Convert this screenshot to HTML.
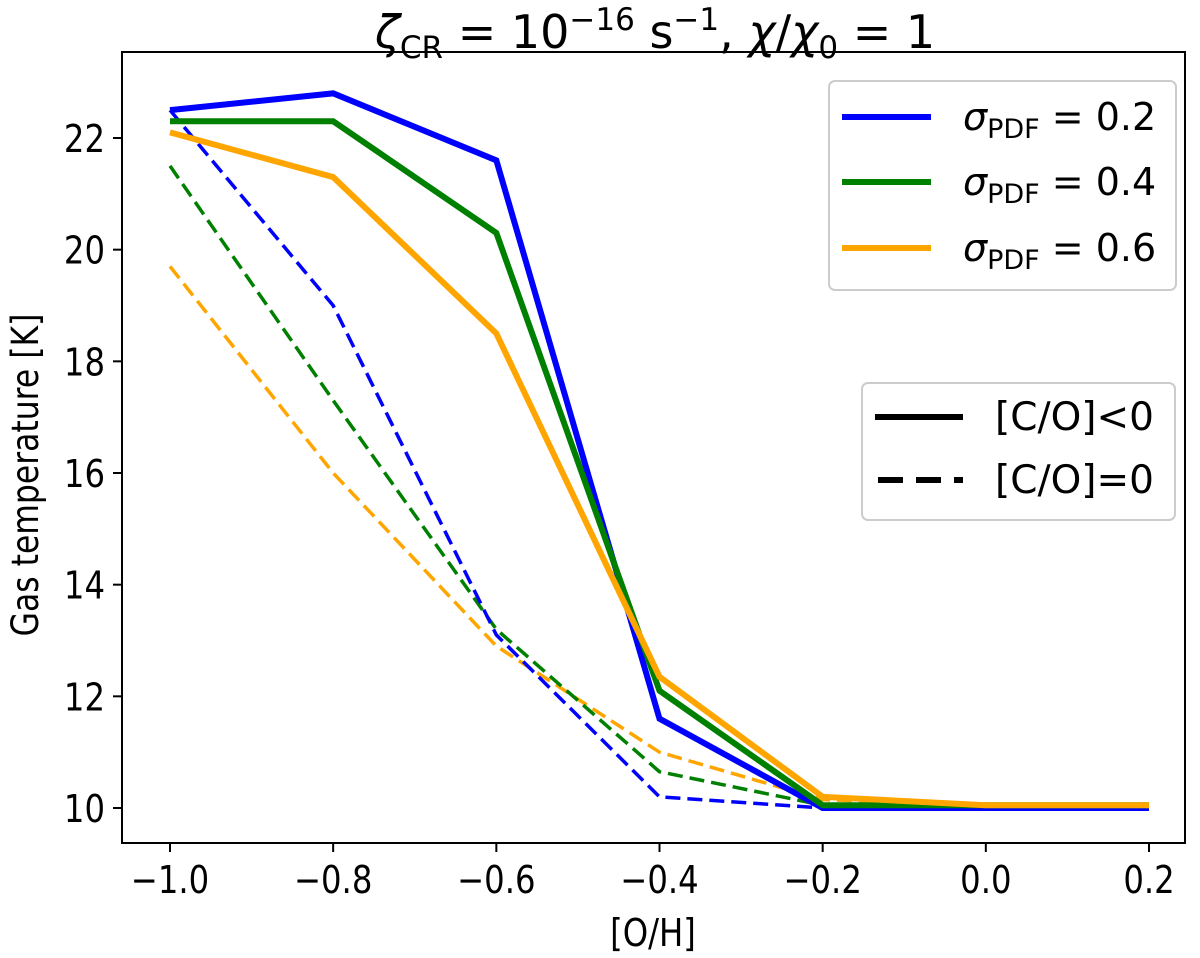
<!DOCTYPE html>
<html><head><meta charset="utf-8"><style>
body{margin:0;background:#fff}
svg text{font-family:"DejaVu Sans","Liberation Sans",sans-serif;fill:#000}
</style></head><body>
<svg id="chart" width="1200" height="953" viewBox="0 0 1200 953" xmlns="http://www.w3.org/2000/svg">
<text x="655" y="48" font-size="46" text-anchor="middle"><tspan font-style="italic">ζ</tspan><tspan font-size="31" dy="10">CR</tspan><tspan dy="-10"> = 10</tspan><tspan font-size="31" dy="-18">−16</tspan><tspan dy="18"> s</tspan><tspan font-size="31" dy="-18">−1</tspan><tspan dy="18">, </tspan><tspan font-style="italic">χ</tspan>/<tspan font-style="italic">χ</tspan><tspan font-size="31" dy="10">0</tspan><tspan dy="-10"> = 1</tspan></text>
<g id="plot"></g>
<rect x="122" y="52" width="1063" height="791" fill="none" stroke="#000" stroke-width="2"/>
<g id="ticks"></g>
<text transform="translate(653,946) scale(0.85,1)" font-size="38" text-anchor="middle">[O/H]</text>
<text transform="translate(38,475) rotate(-90) scale(0.85,1)" font-size="37" text-anchor="middle">Gas temperature [K]</text>
<g>
<rect x="829" y="81" width="347" height="209" rx="6" fill="#fff" stroke="#ccc" stroke-width="2"/>
<g><line x1="842" y1="117" x2="931" y2="117" stroke="#0000ff" stroke-width="6"/><text x="963" y="130" font-size="38"><tspan font-style="italic">σ</tspan><tspan font-size="27" dy="8">PDF</tspan><tspan dy="-8"> = 0.2</tspan></text></g>
<g><line x1="842" y1="182" x2="931" y2="182" stroke="#008000" stroke-width="6"/><text x="963" y="195" font-size="38"><tspan font-style="italic">σ</tspan><tspan font-size="27" dy="8">PDF</tspan><tspan dy="-8"> = 0.4</tspan></text></g>
<g><line x1="842" y1="248" x2="931" y2="248" stroke="#ffa500" stroke-width="6"/><text x="963" y="261" font-size="38"><tspan font-style="italic">σ</tspan><tspan font-size="27" dy="8">PDF</tspan><tspan dy="-8"> = 0.6</tspan></text></g>
</g>
<g>
<rect x="862" y="383" width="313" height="137" rx="6" fill="#fff" stroke="#ccc" stroke-width="2"/>
<g><line x1="875" y1="417" x2="963" y2="417" stroke="#000" stroke-width="6"/><text x="995" y="430" font-size="39">[C/O]&lt;0</text></g>
<g><line x1="878" y1="480" x2="963" y2="480" stroke="#000" stroke-width="6" stroke-dasharray="25,13"/><text x="995" y="493" font-size="39">[C/O]=0</text></g>
</g>
</svg>
<script>
const xCats=[-1.0,-0.8,-0.6,-0.4,-0.2,0.0,0.2];
const xTickLabels=["−1.0","−0.8","−0.6","−0.4","−0.2","0.0","0.2"];
const yTicks=[10,12,14,16,18,20,22];
const solid02=[22.5,22.8,21.6,11.6,10.0,10.0,10.0];
const solid04=[22.3,22.3,20.3,12.1,10.05,10.05,10.05];
const solid06=[22.1,21.3,18.5,12.35,10.2,10.05,10.05];
const dash02=[22.5,19.0,13.1,10.2,10.0,10.0,10.0];
const dash04=[21.5,17.3,13.2,10.65,10.05,10.0,10.0];
const dash06=[19.7,16.0,12.9,11.0,10.15,10.05,10.05];
const NS="http://www.w3.org/2000/svg";
const xs=v=>170+(v+1.0)/1.2*979;
const ys=v=>808-(v-10)/12*670;
const plot=document.getElementById('plot'),ticks=document.getElementById('ticks');
function line(vals,color,w,dash,name){
  const p=document.createElementNS(NS,'polyline');
  p.setAttribute('points',vals.map((v,i)=>xs(xCats[i])+','+ys(v)).join(' '));
  p.setAttribute('fill','none');p.setAttribute('stroke',color);p.setAttribute('stroke-width',w);
  if(dash)p.setAttribute('stroke-dasharray',dash);
  
  
  plot.appendChild(p);
}
line(dash06,'#ffa500',3.5,'15,7','series-dashed-sigma-0.6');
line(dash04,'#008000',3.5,'15,7','series-dashed-sigma-0.4');
line(dash02,'#0000ff',3.5,'15,7','series-dashed-sigma-0.2');
line(solid02,'#0000ff',6,null,'series-solid-sigma-0.2');
line(solid04,'#008000',6,null,'series-solid-sigma-0.4');
line(solid06,'#ffa500',6,null,'series-solid-sigma-0.6');
xCats.forEach((c,i)=>{
  const l=document.createElementNS(NS,'line');
  l.setAttribute('x1',xs(c));l.setAttribute('x2',xs(c));l.setAttribute('y1',843);l.setAttribute('y2',852);l.setAttribute('stroke','#000');l.setAttribute('stroke-width',2);
  
  
  ticks.appendChild(l);
  const t=document.createElementNS(NS,'text');
  t.setAttribute('transform','translate('+xs(c)+',893) scale(0.85,1)');
  t.setAttribute('font-size',38);t.setAttribute('text-anchor','middle');
  t.textContent=xTickLabels[i];
  
  
  ticks.appendChild(t);
});
yTicks.forEach(v=>{
  const l=document.createElementNS(NS,'line');
  l.setAttribute('x1',113);l.setAttribute('x2',122);l.setAttribute('y1',ys(v));l.setAttribute('y2',ys(v));l.setAttribute('stroke','#000');l.setAttribute('stroke-width',2);
  
  
  ticks.appendChild(l);
  const t=document.createElementNS(NS,'text');
  t.setAttribute('transform','translate(105,'+(ys(v)+14)+') scale(0.85,1)');
  t.setAttribute('font-size',38);t.setAttribute('text-anchor','end');
  t.textContent=v;
  
  
  ticks.appendChild(t);
});
</script>
</body></html>
